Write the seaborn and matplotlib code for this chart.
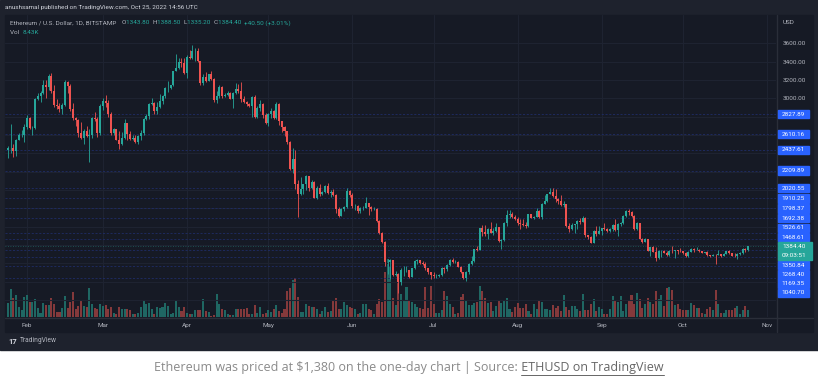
import numpy as np
import pandas as pd
import matplotlib
matplotlib.use("Agg")
import matplotlib.pyplot as plt
import matplotlib.dates as mdates
from matplotlib.patches import Rectangle
from matplotlib.lines import Line2D
import seaborn as sns

# ETH/USD daily candles (Bitstamp), 25 Jan - 25 Oct 2022
first_day = "2022-01-25"
first_open = 2440.0

closes = [
    # Jan 25-31
    2460, 2460, 2420, 2550, 2600, 2600, 2690,
    # Feb
    2790, 2680, 2680, 2990, 3020, 3060, 3150, 3120, 3240, 3080,
    2930, 2920, 2880, 2930, 3180, 3130, 2880, 2780, 2760, 2620,
    2570, 2640, 2590, 2600, 2780, 2770, 2620, 2920,
    # Mar
    2970, 2950, 2830, 2620, 2660, 2550, 2500, 2570, 2730, 2610,
    2560, 2570, 2520, 2590, 2620, 2770, 2810, 2940, 2950, 2860,
    2900, 2970, 3030, 3110, 3110, 3140, 3300, 3330, 3400, 3380, 3280,
    # Apr
    3450, 3440, 3520, 3520, 3410, 3170, 3230, 3190, 3260, 3210,
    2980, 3030, 3120, 3020, 3040, 3060, 2990, 3060, 3100, 3080,
    2990, 2960, 2940, 2920, 3010, 2800, 2890, 2940, 2820, 2730,
    # May
    2830, 2860, 2780, 2940, 2750, 2690, 2640, 2520, 2230, 2340,
    2070, 1960, 2010, 2060, 2150, 2020, 2090, 1910, 2020, 1960,
    1980, 2040, 1970, 1980, 1940, 1790, 1720, 1790, 1810, 1990, 1940,
    # Jun
    1820, 1830, 1775, 1800, 1805, 1860, 1815, 1790, 1790, 1660,
    1530, 1435, 1210, 1214, 1235, 1070, 1085, 995, 1125, 1125,
    1125, 1050, 1145, 1225, 1240, 1200, 1190, 1145, 1100, 1070,
    # Jul
    1060, 1065, 1075, 1150, 1135, 1185, 1240, 1215, 1215, 1165,
    1100, 1040, 1110, 1190, 1230, 1355, 1340, 1580, 1545, 1520,
    1575, 1535, 1550, 1600, 1440, 1450, 1640, 1725, 1735, 1700, 1680,
    # Aug
    1635, 1630, 1620, 1610, 1735, 1695, 1700, 1775, 1700, 1850,
    1880, 1955, 1980, 1935, 1900, 1880, 1835, 1845, 1610, 1575,
    1620, 1625, 1665, 1655, 1695, 1505, 1490, 1425, 1550, 1525, 1550,
    # Sep
    1585, 1575, 1555, 1575, 1620, 1560, 1630, 1635, 1720, 1775,
    1760, 1715, 1575, 1640, 1470, 1435, 1470, 1335, 1375, 1325,
    1255, 1330, 1330, 1315, 1295, 1335, 1330, 1340, 1335, 1330,
    # Oct 1-25
    1310, 1275, 1325, 1360, 1350, 1350, 1330, 1315, 1320, 1290,
    1280, 1295, 1290, 1300, 1275, 1305, 1330, 1310, 1285, 1280,
    1300, 1315, 1360, 1343.8, 1384.4,
]

highs = [
    2480, 2720, 2500, 2560, 2620, 2650, 2720,
    2820, 2800, 2700, 3000, 3060, 3080, 3200, 3200, 3270, 3280,
    3150, 2990, 2950, 2950, 3200, 3190, 3160, 2950, 2800, 2770,
    2740, 2660, 2700, 2660, 2800, 2850, 2800, 2940,
    3000, 3040, 2980, 2850, 2680, 2670, 2640, 2630, 2770, 2730,
    2640, 2600, 2600, 2600, 2650, 2790, 2830, 2950, 3000, 2960,
    2960, 3050, 3040, 3120, 3190, 3150, 3300, 3480, 3440, 3440, 3440,
    3470, 3530, 3580, 3550, 3550, 3410, 3260, 3290, 3270, 3300,
    3220, 3080, 3140, 3130, 3060, 3080, 3070, 3070, 3170, 3160,
    3180, 3020, 2970, 2950, 3020, 3040, 2920, 2980, 2950, 2840,
    2840, 2890, 2870, 2960, 2950, 2750, 2700, 2640, 2530, 2460,
    2440, 2110, 2140, 2070, 2160, 2150, 2110, 2100, 2040, 2060,
    1990, 2050, 2080, 2000, 2010, 1960, 1810, 1800, 1820, 2020, 2000,
    1970, 1850, 1840, 1810, 1820, 1920, 1860, 1830, 1810, 1800,
    1670, 1540, 1440, 1250, 1250, 1240, 1120, 1090, 1150, 1170,
    1170, 1130, 1150, 1240, 1250, 1240, 1230, 1210, 1150, 1110,
    1100, 1080, 1080, 1155, 1160, 1190, 1245, 1260, 1240, 1220,
    1170, 1100, 1115, 1200, 1280, 1360, 1390, 1590, 1620, 1620,
    1590, 1650, 1580, 1640, 1600, 1460, 1650, 1780, 1780, 1760, 1730,
    1700, 1680, 1680, 1650, 1740, 1735, 1720, 1800, 1780, 1860,
    1940, 1960, 2020, 2020, 2010, 1910, 1950, 1880, 1850, 1640,
    1640, 1630, 1670, 1690, 1720, 1700, 1510, 1500, 1560, 1610, 1610,
    1590, 1640, 1580, 1580, 1630, 1680, 1640, 1650, 1730, 1780,
    1790, 1770, 1730, 1650, 1640, 1480, 1480, 1470, 1380, 1390,
    1380, 1340, 1350, 1340, 1330, 1340, 1390, 1350, 1345, 1370,
    1335, 1320, 1330, 1365, 1365, 1380, 1360, 1330, 1325, 1330,
    1290, 1300, 1300, 1340, 1305, 1310, 1335, 1340, 1315, 1310,
    1310, 1320, 1365, 1365, 1388.5,
]

lows = [
    2350, 2400, 2360, 2370, 2540, 2580, 2520,
    2670, 2660, 2600, 2660, 2980, 2960, 3050, 3000, 3090, 3060,
    2900, 2880, 2850, 2830, 2920, 3060, 2860, 2760, 2700, 2580,
    2560, 2500, 2580, 2300, 2570, 2750, 2580, 2600,
    2870, 2900, 2800, 2600, 2600, 2540, 2450, 2490, 2560, 2550,
    2540, 2550, 2510, 2500, 2540, 2600, 2760, 2770, 2930, 2830,
    2830, 2890, 2940, 3000, 3070, 3100, 3130, 3300, 3320, 3340, 3270,
    3220, 3430, 3430, 3410, 3400, 3150, 3150, 3180, 3190, 3200,
    2960, 2950, 3000, 3000, 3010, 3020, 2990, 2890, 3050, 3060,
    2960, 2950, 2920, 2900, 2800, 2780, 2780, 2860, 2780, 2720,
    2700, 2780, 2770, 2770, 2710, 2630, 2590, 2500, 2220, 2190,
    2010, 1700, 1950, 1960, 2000, 1990, 2010, 1910, 1900, 1930,
    1950, 1970, 1960, 1920, 1930, 1750, 1710, 1720, 1770, 1800, 1920,
    1800, 1780, 1750, 1750, 1780, 1800, 1730, 1770, 1780, 1650,
    1520, 1420, 1170, 1080, 1030, 1060, 1060, 880, 960, 1060,
    1100, 1040, 1050, 1140, 1190, 1190, 1180, 1130, 1080, 1030,
    1040, 1040, 1050, 1060, 1090, 1120, 1170, 1200, 1200, 1160,
    1090, 1030, 1010, 1080, 1180, 1210, 1330, 1340, 1500, 1500,
    1460, 1530, 1510, 1540, 1430, 1360, 1440, 1610, 1690, 1690, 1670,
    1620, 1570, 1610, 1590, 1600, 1690, 1680, 1700, 1690, 1680,
    1850, 1870, 1955, 1920, 1870, 1850, 1830, 1810, 1600, 1540,
    1560, 1530, 1570, 1630, 1650, 1490, 1460, 1420, 1420, 1500, 1520,
    1510, 1560, 1540, 1540, 1550, 1550, 1500, 1610, 1630, 1700,
    1730, 1700, 1560, 1560, 1460, 1420, 1430, 1330, 1280, 1320,
    1220, 1250, 1270, 1310, 1280, 1280, 1310, 1260, 1300, 1320,
    1305, 1270, 1270, 1320, 1320, 1340, 1320, 1310, 1310, 1285,
    1270, 1280, 1190, 1290, 1265, 1275, 1300, 1300, 1280, 1270,
    1250, 1295, 1305, 1320, 1335.2,
]

# daily volume, relative units (as measured from the bar heights)
volume = [
    14, 28, 19, 22, 10, 7, 20, 22, 15, 15,
    18, 9, 4, 14, 12, 12, 19, 13, 5, 5,
    9, 21, 9, 15, 25, 8, 11, 16, 11, 10,
    29, 13, 9, 8, 13, 11, 12, 8, 10, 4,
    3, 10, 8, 8, 8, 7, 3, 3, 4, 10,
    17, 13, 14, 8, 3, 10, 9, 10, 14, 11,
    3, 4, 17, 10, 6, 10, 4, 3, 3, 7,
    7, 7, 18, 6, 5, 1, 2, 23, 13, 8,
    7, 3, 2, 2, 8, 8, 8, 8, 9, 3,
    3,
    12, 4, 10, 3, 4, 7, 5, 8, 12,
    6, 4, 8, 26, 29, 37, 39, 20, 5, 5,
    13, 11, 10, 10, 8, 3, 6, 10, 5, 6,
    16, 19, 8, 8, 15, 12, 10, 9, 8, 3,
    4, 13, 13, 8, 7, 3, 13, 18, 15, 45,
    58, 50, 19, 12, 34, 23, 16, 30, 17, 15,
    13, 10, 9, 8, 30, 9, 31, 13, 4, 4,
    7, 26, 21, 13, 10, 3, 4, 20, 23, 16,
    12, 12, 14, 15, 31, 26, 19, 14, 15, 6,
    11, 17, 14, 17,
    19, 8, 5, 10, 14, 9, 9, 13, 6, 3,
    13, 8, 17, 15, 8, 8, 7, 12, 9, 11,
    6, 22, 10, 7, 11, 11, 8, 6, 23, 7,
    7, 13, 18, 6, 10, 8, 3, 3, 8, 21,
    16, 15, 21, 6, 13, 16, 22, 13, 24, 18,
    9, 13, 19, 15, 13, 26, 18, 22, 11, 29,
    30, 27, 12, 13, 8, 7, 7, 7, 14, 12,
    9, 9, 4, 3, 8, 10, 7, 27, 13, 4,
    4, 7, 7, 7, 9, 11, 3, 7, 11, 7,
]

# price levels drawn as dashed lines, with their tags on the price scale
levels = [2827.89, 2610.16, 2437.61, 2209.89, 2020.55, 1910.25, 1798.37,
          1692.38, 1526.61, 1468.61, 1350.84, 1268.40, 1169.35, 1040.70]
last_price = 1384.40
countdown = "09:03:51"
price_ticks = list(range(800, 3601, 200))
month_labels = ["Feb", "Mar", "Apr", "May", "Jun", "Jul", "Aug", "Sep", "Oct", "Nov"]
month_starts = ["2022-02-01", "2022-03-01", "2022-04-01", "2022-05-01", "2022-06-01",
                "2022-07-01", "2022-08-01", "2022-09-01", "2022-10-01", "2022-11-01"]

header = "anushsamal published on TradingView.com, Oct 25, 2022 14:56 UTC"
symbol = "Ethereum / U.S. Dollar, 1D, BITSTAMP"
ohlc_text = [("O", "1343.80"), ("H", "1388.50"), ("L", "1335.20"), ("C", "1384.40")]
change_text = "+40.50 (+3.01%)"
vol_text = "8.43K"
caption = "Ethereum was priced at $1,380 on the one-day chart | Source:"
caption_link = " ETHUSD on TradingView"

# ---- colours ----
FRAME = "#1e222d"
PANEL = "#161a25"
GRID = "#1e2331"
SEP = "#2a2e39"
TXT = "#b2b5be"
UP = "#26a69a"
DN = "#ef5350"
VOL_UP = "#1f6763"
VOL_DN = "#84393b"
LEVEL = "#1f2c66"
TAG = "#2962ff"

df = pd.DataFrame({
    "date": pd.date_range(first_day, periods=len(closes), freq="D"),
    "close": closes, "high": highs, "low": lows, "volume": volume,
})
df["open"] = [first_open] + closes[:-1]
df["dir"] = np.where(df["close"] >= df["open"], "up", "down")
df["x"] = mdates.date2num(df["date"])

sns.set_theme(style="dark", rc={"axes.facecolor": PANEL, "figure.facecolor": "white"})
plt.rcParams["font.family"] = ["Roboto", "DejaVu Sans"]

W, H = 818, 387
fig = plt.figure(figsize=(W / 100, H / 100), dpi=100)


def fx(px):
    return px / W


def fy(py):
    return 1 - py / H


# frame, chart panel (behind the axes)
fig.patches.append(Rectangle((0, fy(350)), 1, 350 / H, transform=fig.transFigure,
                             color=FRAME, zorder=-2))
fig.patches.append(Rectangle((fx(5), fy(332)), 808 / W, 317 / H, transform=fig.transFigure,
                             color=PANEL, zorder=-1))

ax_vol = fig.add_axes([fx(5), fy(317), 771 / W, 302 / H])
ax = ax_vol.twinx()
ax.patch.set_visible(False)

# volume
sns.barplot(data=df, x="x", y="volume", hue="dir", palette={"up": VOL_UP, "down": VOL_DN},
            native_scale=True, dodge=False, legend=False, errorbar=None,
            saturation=1, width=0.75, linewidth=0, ax=ax_vol)
ax_vol.set_ylim(0, 302)

# candles
colors = np.where(df["dir"] == "up", UP, DN)
ax.vlines(df["x"], df["low"], df["high"], colors=colors, linewidth=0.6, zorder=3)
ax.bar(df["x"], df["close"] - df["open"], bottom=df["open"], width=0.74,
       color=colors, linewidth=0, zorder=4)

for v in levels:
    ax.axhline(v, color=LEVEL, lw=0.6, ls=(0, (2.5, 2)), zorder=2)
ax.axhline(last_price, color=UP, lw=0.6, ls=(0, (1, 2)), alpha=0.5, zorder=2)

x0 = df["x"].iloc[0]
ax_vol.set_xlim(x0 - 1.1, x0 + 283.3)
ax.set_ylim(614.6, 3908.6)

# price tags, pushed apart so they do not overlap (as on TradingView)
tag_h = 9.3
cur_c = ax.transData.transform((0, last_price))[1]
placed = []
edge = cur_c + tag_h / 2
for v in sorted([l for l in levels if l > last_price]):
    c = max(ax.transData.transform((0, v))[1], edge + tag_h / 2)
    placed.append((v, c))
    edge = c + tag_h / 2
edge = cur_c - tag_h / 2 - tag_h
for v in sorted([l for l in levels if l < last_price], reverse=True):
    c = min(ax.transData.transform((0, v))[1], edge - tag_h / 2)
    placed.append((v, c))
    edge = c - tag_h / 2
tag_centres = [c for _, c in placed] + [cur_c - tag_h / 2]

# grid & ticks (scale labels hidden under a tag are dropped, like TradingView does)
ax_vol.set_xticks(mdates.date2num(pd.to_datetime(month_starts)))
ax_vol.set_xticklabels(month_labels)
ax_vol.set_yticks([])
ax_vol.grid(axis="x", color=GRID, lw=0.8)
ax_vol.tick_params(axis="x", length=0, pad=4, labelsize=4.6, labelcolor=TXT)
ax_vol.set_xlabel("")
ax_vol.set_ylabel("")

ax.set_yticks(price_ticks)
tick_labels = []
for t in price_ticks:
    tp = ax.transData.transform((0, t))[1]
    hidden = any(abs(tp - c) < tag_h * 1.05 for c in tag_centres)
    tick_labels.append("" if hidden else f"{t:.2f}")
ax.set_yticklabels(tick_labels)
ax.grid(axis="y", color=GRID, lw=0.8)
ax.set_axisbelow(True)
ax.tick_params(axis="y", length=0, pad=5, labelsize=4.6, labelcolor=TXT)
for a in (ax, ax_vol):
    for s in a.spines.values():
        s.set_visible(False)

# separators of the price and time scales
fig.add_artist(Line2D([fx(777), fx(777)], [fy(15), fy(332)], color=SEP, lw=1))
fig.add_artist(Line2D([fx(5), fx(813)], [fy(317.5), fy(317.5)], color=SEP, lw=1))
fig.text(fx(783), fy(22), "USD", color=TXT, fontsize=4.6, va="center")

for v, c in placed:
    fig.patches.append(Rectangle((fx(777.5), (c - 4.3) / H), 31.5 / W, 8.6 / H,
                                 transform=fig.transFigure, color=TAG, zorder=5))
    fig.text(fx(793.2), c / H, f"{v:.2f}", color="white", fontsize=4.6,
             ha="center", va="center", zorder=6)
fig.patches.append(Rectangle((fx(777.5), (cur_c - tag_h / 2 - tag_h) / H), 34 / W,
                             2 * tag_h / H, transform=fig.transFigure, color=UP, zorder=5))
fig.text(fx(794), cur_c / H, f"{last_price:.2f}", color="white", fontsize=4.6,
         ha="center", va="center", zorder=6)
fig.text(fx(794), (cur_c - tag_h) / H, countdown, color="white", fontsize=4.6,
         ha="center", va="center", zorder=6)

# header / legend texts
renderer = fig.canvas.get_renderer()


def text_run(x, y, pieces, size, **kw):
    for s, col in pieces:
        t = fig.text(fx(x), fy(y), s, color=col, fontsize=size, va="center", ha="left", **kw)
        x += t.get_window_extent(renderer).width
    return x


fig.text(fx(5), fy(7), header, color="#d1d4dc", fontsize=4.6, va="center")
pieces = [(symbol + "   ", TXT)]
for k, val in ohlc_text:
    pieces += [(k, TXT), (val + "  ", UP)]
pieces += [(change_text, UP)]
text_run(10, 23, pieces, 4.6)
text_run(10, 32, [("Vol  ", TXT), (vol_text, UP)], 4.6)

# footer logo
x_end = text_run(8, 341, [("17", "#d1d4dc")], 5.5, fontweight="bold")
text_run(x_end + 3, 341, [("TradingView", "#b2b5be")], 4.8)

# caption below the screenshot
cap = fig.text(0, fy(367), caption, color="#8a8a8a", fontsize=9.0, va="center",
               family=["Open Sans", "DejaVu Sans"])
link = fig.text(0, fy(367), caption_link, color="#666666", fontsize=9.0, va="center",
                family=["Open Sans", "DejaVu Sans"])
w1 = cap.get_window_extent(renderer).width
w2 = link.get_window_extent(renderer).width
start = (W - w1 - w2) / 2
cap.set_x(fx(start))
link.set_x(fx(start + w1))
fig.add_artist(Line2D([fx(start + w1 + 3), fx(start + w1 + w2)], [fy(374.5), fy(374.5)],
                      color="#666666", lw=0.7))

fig.savefig("out.png", dpi=100)
